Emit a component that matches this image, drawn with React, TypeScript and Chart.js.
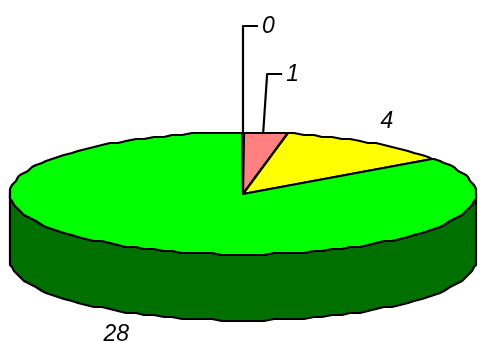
import React, { useEffect, useRef } from "react";
import { Chart, registerables } from "chart.js";

Chart.register(...registerables);

const sliceValues = [0, 1, 4, 28];
const sliceLabels = ["0", "1", "4", "28"];
const topColors = ["#0000ff", "#ff8080", "#ffff00", "#00ff00"];
const sideColors = ["#000080", "#804040", "#808000", "#007000"];

// projection of the pie disc on the page
const CX = 243;
const CY = 194;
const RX = 233;
const RY = 61;
const DEPTH = 66;
const GRID = 2;
const SAMPLE = Math.PI / 72;
const FONT = "italic 23px 'Liberation Sans', Arial, sans-serif";

// label placement per slice: leader elbow height above the disc centre, or a plain offset
const leaderTops = [168, 120, null, null];
const labelOffsets = [null, null, [18, -21], [-20, 20]];

const snap = (v: number) => Math.round(v / GRID) * GRID;

function rim(a: number, dy = 0): [number, number] {
  return [snap(CX + RX * Math.cos(a)), snap(CY + RY * Math.sin(a) + 0.5) - 1 + dy];
}

// Sample on a fixed angular lattice so neighbouring slices and the wall share rim points.
function arcPoints(a0: number, a1: number, dy = 0): [number, number][] {
  const lo = Math.min(a0, a1);
  const hi = Math.max(a0, a1);
  const angles = [lo];
  for (let k = Math.ceil(lo / SAMPLE + 1e-6); k * SAMPLE < hi - 1e-6; k++) angles.push(k * SAMPLE);
  if (hi > lo) angles.push(hi);
  if (a0 > a1) angles.reverse();
  return angles.map((a) => rim(a, dy));
}

function trace(ctx: CanvasRenderingContext2D, pts: [number, number][]) {
  ctx.beginPath();
  pts.forEach(([x, y], i) => (i ? ctx.lineTo(x, y) : ctx.moveTo(x, y)));
  ctx.closePath();
}

const pie3d = {
  id: "pie3d",
  beforeDatasetsDraw(chart: any) {
    const ctx: CanvasRenderingContext2D = chart.ctx;
    const arcs = chart.getDatasetMeta(0).data;
    ctx.save();
    ctx.lineWidth = 2.2;
    ctx.lineJoin = "round";
    ctx.strokeStyle = "#000";

    // wall
    arcs.forEach((arc: any, i: number) => {
      const { startAngle, endAngle } = arc.getProps(["startAngle", "endAngle"], true);
      const s = Math.max(startAngle, 0);
      const e = Math.min(endAngle, Math.PI);
      if (e <= s) return;
      const pts = [...arcPoints(s, e), ...arcPoints(e, s, DEPTH)];
      trace(ctx, pts);
      ctx.fillStyle = sideColors[i];
      ctx.fill();
      ctx.stroke();
    });

    // top
    arcs.forEach((arc: any, i: number) => {
      const { startAngle, endAngle } = arc.getProps(["startAngle", "endAngle"], true);
      const pts: [number, number][] = [[CX, CY], ...arcPoints(startAngle, endAngle)];
      trace(ctx, pts);
      ctx.fillStyle = topColors[i];
      ctx.fill();
      ctx.stroke();
    });

    // labels
    ctx.fillStyle = "#000";
    ctx.font = FONT;
    ctx.textBaseline = "middle";
    arcs.forEach((arc: any, i: number) => {
      const { startAngle, endAngle } = arc.getProps(["startAngle", "endAngle"], true);
      const mid = (startAngle + endAngle) / 2;
      const x = CX + RX * Math.cos(mid);
      const y = CY + RY * Math.sin(mid);
      const top = leaderTops[i];
      if (top !== null) {
        const ly = CY - top;
        const ex = x + (i === 1 ? 2 : 0);
        ctx.beginPath();
        ctx.moveTo(x - (i === 1 ? 2 : 0), y);
        ctx.lineTo(ex, ly);
        ctx.lineTo(ex + 15, ly);
        ctx.stroke();
        ctx.textAlign = "left";
        ctx.fillText(sliceLabels[i], ex + 19, ly + 1);
      } else {
        const off = labelOffsets[i] as number[];
        const wall = Math.sin(mid) > 0 ? DEPTH : 0;
        ctx.textAlign = "center";
        ctx.fillText(sliceLabels[i], x + off[0], y + wall + off[1]);
      }
    });
    ctx.restore();
    return false;
  },
};

export default function App() {
  const ref = useRef<HTMLCanvasElement>(null);
  useEffect(() => {
    const chart = new Chart(ref.current!, {
      type: "pie",
      data: {
        labels: sliceLabels,
        datasets: [{ data: sliceValues, backgroundColor: topColors, borderWidth: 0 }],
      },
      options: {
        responsive: false,
        animation: false,
        plugins: { legend: { display: false }, tooltip: { enabled: false } },
      },
      plugins: [pie3d],
    } as any);
    return () => chart.destroy();
  }, []);
  return (
    <div style={{ position: "absolute", left: 0, top: 0, width: 480, height: 341, background: "#fff" }}>
      <canvas ref={ref} width={480} height={341} style={{ display: "block" }} />
    </div>
  );
}
